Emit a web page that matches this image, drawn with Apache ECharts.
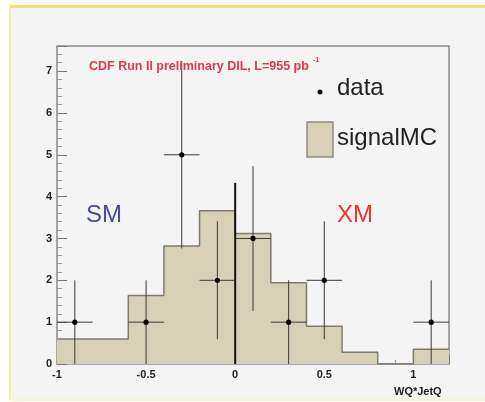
<!DOCTYPE html>
<html>
<head>
<meta charset="utf-8">
<script src="https://cdn.jsdelivr.net/npm/echarts@6/dist/echarts.min.js"></script>
<style>
html,body{margin:0;padding:0;background:#ffffff;}
#c{width:485px;height:402px;}
</style>
</head>
<body>
<div id="c"></div>
<script>
// ---- data ----
const binEdges = [-1, -0.8, -0.6, -0.4, -0.2, 0, 0.2, 0.4, 0.6, 0.8, 1.0, 1.2];
const mcValues = [0.60, 0.60, 1.64, 2.82, 3.66, 3.12, 1.94, 0.90, 0.28, 0, 0.35];
const dataX = [-0.9, -0.5, -0.3, -0.1, 0.1, 0.3, 0.5, 1.1];
const dataY = [1, 1, 5, 2, 3, 1, 2, 1];
const dataErr = [1, 1, 2.24, 1.41, 1.73, 1, 1.41, 1];
const binHalfWidth = 0.1;
const separatorLine = [[0, 0], [0, 4.33]];
const xTicks = [-1, -0.5, 0, 0.5, 1];
const yTicks = [0, 1, 2, 3, 4, 5, 6, 7];

const histData = binEdges.map((e, i) => [e, mcValues[Math.min(i, mcValues.length - 1)]]);
const pointData = dataX.map((x, i) => [x, dataY[i], dataErr[i]]);

const chart = echarts.init(document.getElementById('c'), null, {renderer: 'canvas'});
const FONT = 'Liberation Sans, Arial, sans-serif';

function near(v, arr) { return arr.some(t => Math.abs(t - v) < 1e-6); }

chart.setOption({
  animation: false,
  backgroundColor: 'transparent',
  grid: {
    left: 57, right: 36, top: 46, bottom: 38,
    show: true, backgroundColor: '#f4f4f5', borderColor: '#8a8a8a', borderWidth: 1.5
  },
  xAxis: {
    type: 'value', min: -1, max: 1.2, interval: 0.5,
    axisLine: {show: false, onZero: false},
    axisTick: {show: true, inside: true, length: 9, lineStyle: {color: '#777'}},
    minorTick: {show: true, splitNumber: 5, length: 4, lineStyle: {color: '#999'}},
    splitLine: {show: false},
    axisLabel: {
      margin: 5, color: '#222', fontFamily: FONT, fontWeight: 'bold', fontSize: 11,
      formatter: v => near(v, xTicks) ? String(Math.round(v * 10) / 10) : ''
    }
  },
  yAxis: {
    type: 'value', min: 0, max: 7.6, interval: 1,
    axisLine: {show: false, onZero: false},
    axisTick: {show: true, inside: true, length: 10, lineStyle: {color: '#777'}},
    minorTick: {show: true, splitNumber: 5, length: 5, lineStyle: {color: '#999'}},
    splitLine: {show: false},
    axisLabel: {
      margin: 5, color: '#222', fontFamily: FONT, fontWeight: 'bold', fontSize: 11,
      formatter: v => near(v, yTicks) ? String(Math.round(v)) : ''
    }
  },
  series: [
    {
      type: 'line', data: histData, step: 'end', showSymbol: false, symbol: 'none',
      lineStyle: {color: '#7e7b6c', width: 1.5},
      areaStyle: {color: '#d6d1b6', opacity: 1},
      z: 2
    },
    {
      type: 'line', data: separatorLine, showSymbol: false, symbol: 'none',
      lineStyle: {color: '#111', width: 2}, z: 3
    },
    {
      type: 'custom', data: pointData, z: 4,
      renderItem: function (params, api) {
        const x = api.value(0), y = api.value(1), e = api.value(2);
        const c = api.coord([x, y]);
        const l = api.coord([x - binHalfWidth, y]);
        const r = api.coord([x + binHalfWidth, y]);
        const lo = api.coord([x, Math.max(0, y - e)]);
        const hi = api.coord([x, y + e]);
        const st = {stroke: '#3a3a3a', lineWidth: 1};
        return {
          type: 'group',
          children: [
            {type: 'line', shape: {x1: l[0], y1: l[1], x2: r[0], y2: r[1]}, style: st},
            {type: 'line', shape: {x1: lo[0], y1: lo[1], x2: hi[0], y2: hi[1]}, style: st},
            {type: 'circle', shape: {cx: c[0], cy: c[1], r: 2.6}, style: {fill: '#000'}}
          ]
        };
      }
    }
  ],
  graphic: [
    {type: 'rect', left: 0, top: 0, z: -10, silent: true,
     shape: {x: 0, y: 0, width: 485, height: 402}, style: {fill: '#ffffff'}},
    {type: 'rect', z: -9, silent: true,
     shape: {x: 10, y: 6, width: 475, height: 394}, style: {fill: '#f4f4f5'}},
    {type: 'rect', z: -8, silent: true,
     shape: {x: 10, y: 5, width: 475, height: 3}, style: {fill: '#f2e46a'}},
    {type: 'rect', z: -8, silent: true,
     shape: {x: 9, y: 5, width: 2, height: 395}, style: {fill: '#f6efa8'}},
    {type: 'rect', z: -8, silent: true,
     shape: {x: 10, y: 399, width: 475, height: 2}, style: {fill: '#f8f3c8'}},
    {type: 'text', z: 10, style: {x: 89, y: 60, text: 'CDF Run II preliminary DIL, L=955 pb',
      fill: '#e0394a', font: 'bold 12.5px Liberation Sans, Arial, sans-serif'}},
    {type: 'text', z: 10, style: {x: 313, y: 57, text: '-1',
      fill: '#e0394a', font: 'bold 7px Liberation Sans, Arial, sans-serif'}},
    {type: 'circle', z: 10, shape: {cx: 320, cy: 92, r: 2.5}, style: {fill: '#111'}},
    {type: 'text', z: 10, style: {x: 337, y: 76, text: 'data',
      fill: '#222', font: '24px Liberation Sans, Arial, sans-serif'}},
    {type: 'rect', z: 10, shape: {x: 307, y: 122, width: 26, height: 35},
      style: {fill: '#d6d1b6', stroke: '#8e8b7a', lineWidth: 1.5}},
    {type: 'text', z: 10, style: {x: 337, y: 126, text: 'signalMC',
      fill: '#222', font: '24px Liberation Sans, Arial, sans-serif'}},
    {type: 'text', z: 10, style: {x: 86, y: 203, text: 'SM',
      fill: '#4b4a98', font: '24px Liberation Sans, Arial, sans-serif'}},
    {type: 'text', z: 10, style: {x: 337, y: 203, text: 'XM',
      fill: '#e8342c', font: '24px Liberation Sans, Arial, sans-serif'}},
    {type: 'text', z: 10, style: {x: 394, y: 386, text: 'WQ*JetQ',
      fill: '#222', font: 'bold 11px Liberation Sans, Arial, sans-serif'}}
  ]
});
</script>
</body>
</html>
